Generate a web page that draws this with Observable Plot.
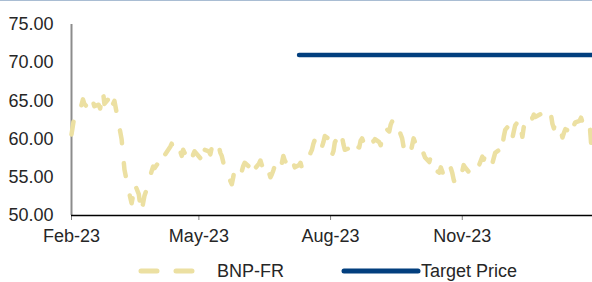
<!DOCTYPE html>
<html>
<head>
<meta charset="utf-8">
<script src="https://cdn.jsdelivr.net/npm/d3@7"></script>
<script src="https://cdn.jsdelivr.net/npm/@observablehq/plot@0.6"></script>
<style>
  html, body { margin: 0; padding: 0; background: #fff; }
  #wrap { position: relative; width: 592px; height: 282px; overflow: hidden; border-top: 1px solid #a9bdd3; box-sizing: border-box; font-family: "Liberation Sans", Arial, sans-serif; color: #262626; }
  #chart { position: absolute; left: 0; top: 0; }
  .leg { position: absolute; top: 258px; height: 24px; font-size: 18px; line-height: 24px; white-space: nowrap; }
  .leg svg { position: absolute; top: 0; }
</style>
</head>
<body>
<div id="wrap">
  <div id="chart"></div>
  <div class="leg" style="left:136px;width:160px;">
    <svg width="64" height="24" style="left:0"><line x1="5" y1="12" x2="60" y2="12" stroke="#ECE0A2" stroke-width="5" stroke-linecap="round" stroke-dasharray="16,19"/></svg>
    <span style="position:absolute;left:81px;">BNP-FR</span>
  </div>
  <div class="leg" style="left:340px;width:200px;">
    <svg width="82" height="24" style="left:0"><line x1="4" y1="12" x2="78" y2="12" stroke="#023F7E" stroke-width="5" stroke-linecap="round"/></svg>
    <span style="position:absolute;left:81px;">Target Price</span>
  </div>
</div>
<script>
// ---- data ----
const seriesName = "BNP-FR";
const targetName = "Target Price";
const firstMonday = "2023-01-30";
// daily closes, one row per week Mon..Fri (null = no trading / outside range)
const weeklyPrices = [
  [null, null, 60.6, 61.8, 63.0],
  [63.2, 63.6, 64.5, 65.2, 64.6],
  [64.0, 64.6, 64.2, 64.9, 64.3],
  [64.5, 64.0, 65.0, 66.2, 64.6],
  [65.3, 64.8, 63.8, 64.6, 65.0],
  [62.0, 61.0, 60.0, 58.0, 56.0],
  [53.2, 52.4, 51.6, 52.6, 54.2],
  [52.8, 51.4, 50.4, 51.6, 52.6],
  [54.2, 55.2, 55.8, 56.4, 56.2],
  [57.0, 57.4, 56.9, 57.6, null],
  [null, 59.0, 59.4, 58.8, 58.3],
  [58.9, 58.4, 57.8, 58.6, 58.2],
  [57.6, 57.2, 56.9, 58.0, 58.4],
  [null, 57.5, 58.3, 57.6, 58.6],
  [58.4, 58.0, 58.9, 59.3, 59.8],
  [59.0, 58.2, 57.8, 57.0, 56.0],
  [55.2, 54.5, 54.1, 55.0, 56.2],
  [56.6, 56.0, 55.8, 56.5, 56.9],
  [56.4, 56.9, 56.3, 56.7, 56.1],
  [56.8, 57.2, 56.6, 56.3, 56.9],
  [55.6, 55.0, 55.4, 55.9, 56.5],
  [56.4, 55.8, 56.9, 57.8, 57.2],
  [56.4, 56.0, 56.5, 56.9, 56.3],
  [56.6, 56.9, 56.2, 56.5, 57.2],
  [57.6, 58.2, 58.6, 59.4, 59.9],
  [58.6, 59.2, 59.0, 59.6, 60.4],
  [60.0, 58.6, 57.9, 58.4, 59.6],
  [60.5, 59.8, 60.3, 59.3, 58.6],
  [58.8, 58.4, 58.9, 59.4, 59.0],
  [58.9, 59.8, 60.1, 59.6, 59.2],
  [59.4, 59.9, 60.2, 59.7, 60.0],
  [59.6, 59.2, 60.0, 60.9, 61.5],
  [61.0, 61.9, 62.3, 61.6, 62.0],
  [61.2, 60.6, 60.1, 59.0, 59.5],
  [58.6, 58.3, 59.2, 60.1, 59.6],
  [59.9, 59.0, 58.5, 58.1, 57.6],
  [57.0, 57.7, 57.3, 56.6, 56.0],
  [55.6, 56.3, 55.8, 55.2, 55.7],
  [55.3, 56.2, 55.6, 54.7, 54.1],
  [54.6, 55.4, 55.8, 56.6, 56.3],
  [55.6, 55.9, 56.3, 56.8, 56.4],
  [56.7, 57.2, 57.7, 57.3, 57.9],
  [58.1, 57.5, 56.8, 57.5, 58.2],
  [58.6, 58.1, 59.0, 60.3, 61.2],
  [61.9, 60.8, 60.1, 61.0, 61.8],
  [62.6, 61.4, 60.3, 61.6, 62.5],
  [63.0, 63.3, 62.7, 63.2, 62.9],
  [null, null, 63.4, 62.6, 62.9],
  [null, 63.2, 62.0, 61.4, 62.2],
  [61.5, 61.0, 60.2, 60.8, 61.3],
  [61.0, 60.4, 61.1, 61.8, 62.2],
  [62.4, 62.8, 62.2, 62.7, 62.4],
  [62.0, 59.5, 57.4, null, null]
];
const targetPrice = 71;
const targetStart = "2023-07-10";
const xDomain = ["2023-02-01", "2024-01-31"];
const xTickDates = ["2023-02-01", "2023-05-01", "2023-08-01", "2023-11-01"];
const yTicks = [50, 55, 60, 65, 70, 75];

// ---- build tables ----
const mon = new Date(firstMonday + "T00:00:00Z");
const prices = [];
weeklyPrices.forEach((wk, i) => wk.forEach((v, j) => {
  if (v != null) prices.push({date: d3.utcDay.offset(mon, 7 * i + j), price: v});
}));
const parse = s => new Date(s + "T00:00:00Z");
const x0 = parse(xDomain[0]), x1 = parse(xDomain[1]);
const target = [{date: parse(targetStart), price: targetPrice}, {date: x1, price: targetPrice}];

const chart = Plot.plot({
  width: 592,
  height: 252,
  marginLeft: 71,
  marginRight: 0,
  marginTop: 23,
  marginBottom: 38,
  style: {fontFamily: '"Liberation Sans", Arial, sans-serif', fontSize: "18px", color: "#262626", background: "transparent", overflow: "visible"},
  x: {type: "utc", domain: [x0, x1]},
  y: {domain: [50, 75]},
  marks: [
    Plot.axisY({ticks: yTicks, tickFormat: d => d.toFixed(2), tickSize: 0, tickPadding: 18, fontSize: 18, fill: "#262626", label: null}),
    Plot.axisX({ticks: xTickDates.map(parse), tickFormat: d3.utcFormat("%b-%y"), tickSize: 5, tickPadding: 9, stroke: "#808080", fill: "#262626", fontSize: 18, label: null}),
    Plot.ruleX([x0], {y1: 50, y2: 75, stroke: "#8c8c8c", strokeWidth: 2}),
    Plot.ruleY([50], {stroke: "#000", strokeWidth: 1.5}),
    Plot.line(prices, {x: "date", y: "price", stroke: "#ECE0A2", strokeWidth: 4.5, strokeDasharray: "13,20", strokeLinecap: "round", strokeLinejoin: "round"}),
    Plot.line(target, {x: "date", y: "price", stroke: "#023F7E", strokeWidth: 4.5, strokeLinecap: "round"})
  ]
});
document.getElementById("chart").appendChild(chart);
</script>
</body>
</html>
